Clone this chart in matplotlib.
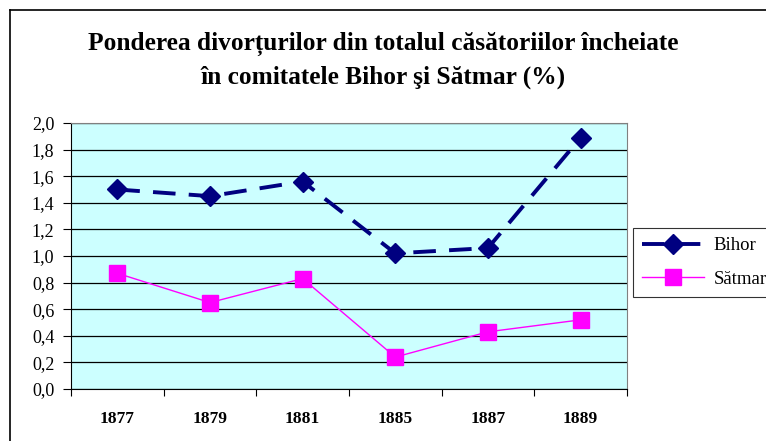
import matplotlib.pyplot as plt
from matplotlib.lines import Line2D

years = ["1877", "1879", "1881", "1885", "1887", "1889"]
bihor = [1.50, 1.45, 1.56, 1.02, 1.06, 1.89]
satmar = [0.87, 0.65, 0.83, 0.24, 0.43, 0.52]
yticks = [0.0, 0.2, 0.4, 0.6, 0.8, 1.0, 1.2, 1.4, 1.6, 1.8, 2.0]

plt.rcParams['font.family'] = ['Liberation Serif', 'DejaVu Serif']

fig = plt.figure(figsize=(7.66, 4.41), dpi=100)
ax = fig.add_axes([0.0927, 0.1179, 0.7258, 0.6032])

x = range(len(years))
ax.plot(x, bihor, color="#000080", lw=2.8, dashes=(5.8, 3.4),
        marker="D", markersize=10.5, markerfacecolor="#000080",
        markeredgecolor="#000080", label="Bihor")
ax.plot(x, satmar, color="#FF00FF", lw=1.0,
        marker="s", markersize=11.5, markerfacecolor="#FF00FF",
        markeredgecolor="#FF00FF", label="Sătmar")

ax.set_facecolor("#CCFFFF")
ax.set_xlim(-0.5, len(years) - 0.5)
ax.set_ylim(0, 2.0)
ax.set_yticks(yticks)
ax.set_yticklabels([("%.1f" % v).replace(".", ",") for v in yticks], fontsize=13)
ax.yaxis.grid(True, color="black", lw=0.9)
ax.set_axisbelow(True)

ax.set_xticks([i - 0.5 for i in range(len(years) + 1)])
ax.set_xticklabels([])
ax.set_xticks(list(x), minor=True)
ax.set_xticklabels(years, minor=True, fontsize=12.5, fontweight="bold")
ax.tick_params(axis="x", which="minor", length=0, pad=16)
ax.tick_params(axis="x", which="major", length=5, direction="out", color="black")
ax.tick_params(axis="y", length=6, direction="out", color="black", pad=6)

for side in ["top", "right"]:
    ax.spines[side].set_color("#808080")
for side in ["left", "bottom"]:
    ax.spines[side].set_color("black")

fig.text(0.5, 1 - 44 / 441, "Ponderea divorțurilor din totalul căsătoriilor încheiate",
         ha="center", va="center", fontsize=18.3, fontweight="bold")
fig.text(0.5, 1 - 77 / 441, "în comitatele Bihor şi Sătmar (%)",
         ha="center", va="center", fontsize=18.3, fontweight="bold")

leg = ax.legend(loc="upper left", bbox_to_anchor=(633 / 766, 1 - 228 / 441),
                bbox_transform=fig.transFigure, borderaxespad=0,
                fontsize=13.5, frameon=True, fancybox=False,
                edgecolor="black", borderpad=0.5, handlelength=3.3,
                handletextpad=0.5, labelspacing=0.85)
leg.get_frame().set_linewidth(0.8)

# outer chart frame
fig.add_artist(Line2D([10 / 766, 10 / 766], [0, 1 - 10 / 441], color="black", lw=1.2))
fig.add_artist(Line2D([10 / 766, 1], [1 - 10 / 441, 1 - 10 / 441], color="black", lw=1.2))

fig.savefig("out.png", dpi=100)
